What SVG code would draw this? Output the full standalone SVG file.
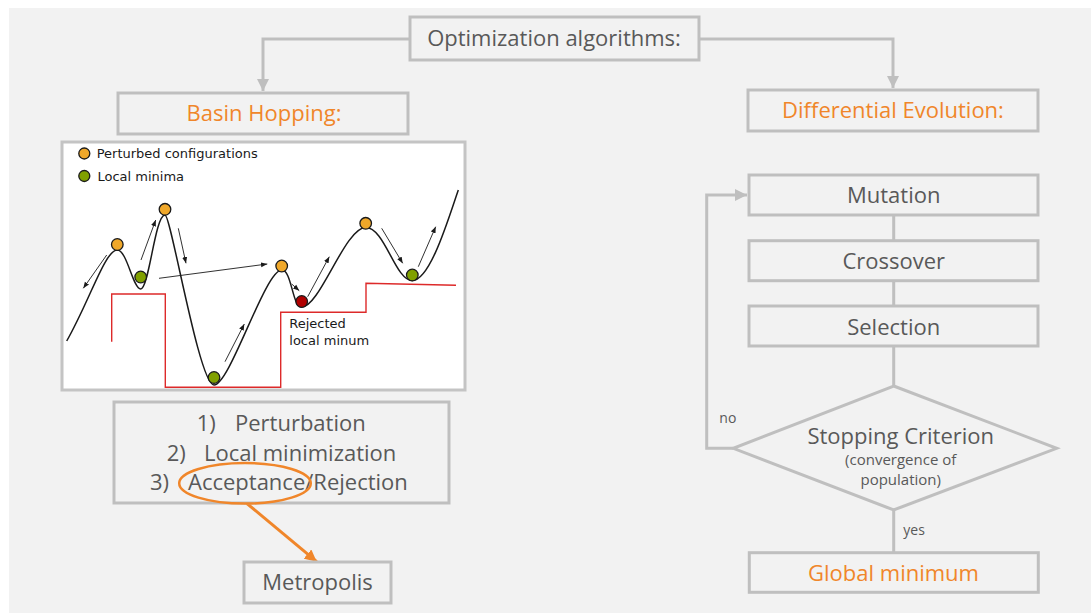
<svg xmlns="http://www.w3.org/2000/svg" width="1091" height="613" viewBox="0 0 1091 613">
<defs>
<style>
.box{fill:#f2f2f2;stroke:#bfbfbf;stroke-width:3}
.con{fill:none;stroke:#bfbfbf;stroke-width:3}
.t{font-family:"Open Sans","Noto Sans",sans-serif;font-size:22px;fill:#595959}
.o{fill:#f0862a}
.c{text-anchor:middle}
.s{font-family:"Open Sans","Noto Sans",sans-serif;font-size:14px;fill:#595959}
.lt{font-family:"DejaVu Sans",sans-serif;font-size:13px;fill:#1a1a1a}
.arr{fill:none;stroke:#1a1a1a;stroke-width:0.9;marker-end:url(#ah)}
.ball{stroke:#1a1a1a;stroke-width:1.3}
.or{fill:#f0a82a}
.gr{fill:#80a000}
.rd{fill:#b00000}
</style>
<marker id="ga" viewBox="0 0 10 10" refX="10" refY="5" markerWidth="4" markerHeight="4" markerUnits="strokeWidth" orient="auto">
<path d="M0,0 L10,5 L0,10 z" fill="#bfbfbf"/>
</marker>
<marker id="oa" viewBox="0 0 10 10" refX="10" refY="5" markerWidth="4" markerHeight="4" markerUnits="strokeWidth" orient="auto">
<path d="M0,0 L10,5 L0,10 z" fill="#f0862a"/>
</marker>
<marker id="ah" viewBox="0 0 10 10" refX="10" refY="5" markerWidth="7" markerHeight="7" markerUnits="strokeWidth" orient="auto">
<path d="M0,1 L10,5 L0,9 z" fill="#1a1a1a"/>
</marker>
</defs>
<rect x="0" y="0" width="1091" height="613" fill="#ffffff"/>
<rect x="9" y="8" width="1082" height="605" fill="#f2f2f2"/>

<g id="connectors">
<path class="con" d="M410,39 H263 V91" marker-end="url(#ga)"/>
<path class="con" d="M699,39 H893 V88" marker-end="url(#ga)"/>
<path class="con" d="M893.7,215 V240.7 M893.7,280.7 V306 M893.7,346 V386 M893.7,510 V552.7"/>
<path class="con" d="M733.3,448.3 H706.7 V195 H747" marker-end="url(#ga)"/>
<path d="M246.7,503.3 L316.7,561.7" fill="none" stroke="#f0862a" stroke-width="3" marker-end="url(#oa)"/>
</g>

<g id="n-opt">
<rect class="box" x="410" y="17" width="289" height="43"/>
<text class="t c" x="554" y="46">Optimization algorithms:</text>
</g>
<g id="n-basin">
<rect class="box" x="118" y="93" width="290" height="41"/>
<text class="t c o" x="264" y="121">Basin Hopping:</text>
</g>
<g id="n-de">
<rect class="box" x="748" y="90" width="290" height="41"/>
<text class="t c o" x="893" y="118">Differential Evolution:</text>
</g>

<g id="n-landscape">
<rect x="62" y="142" width="403" height="248" fill="#ffffff" stroke="#c4c4c4" stroke-width="3"/>
<polyline points="111.7,341.7 111.7,294 165.3,294 165.3,387.3 280.7,387.3 280.7,312.3 366,312.3 366,283.3 456,285.3" fill="none" stroke="#dd2a2a" stroke-width="1.4"/>
<path d="M66.7,341 C90,300 105,250 117.3,250 C127,250 133,289 140.7,289 C149,289 155,215 165,215 C171,215 199,385 214,385 C230,385 265,270 281.7,270 C292,270 292,307 301.7,307 C320,307 345,227.5 365.7,227.5 C385,227.5 395,280.5 412.3,280.5 C430,280.5 448,220 458.3,190" fill="none" stroke="#1a1a1a" stroke-width="1.5"/>
<path class="arr" d="M106.7,255 L83.3,288.3"/>
<path class="arr" d="M141,260 L155.7,220"/>
<path class="arr" d="M178.3,228.3 L186,263.3"/>
<path class="arr" d="M159,278.3 L267.3,264"/>
<path class="arr" d="M225,361.7 L244.3,324"/>
<path class="arr" d="M291.7,284 L299.3,290.7"/>
<path class="arr" d="M307.7,296.7 L329.3,256.7"/>
<path class="arr" d="M381.7,228.3 L402.7,263.3"/>
<path class="arr" d="M418.3,266.7 L435.7,226.7"/>
<circle class="ball or" cx="117.3" cy="244.5" r="5.8"/>
<circle class="ball gr" cx="140.7" cy="277" r="5.8"/>
<circle class="ball or" cx="165" cy="209.3" r="5.8"/>
<circle class="ball gr" cx="214" cy="377.5" r="5.8"/>
<circle class="ball or" cx="281.7" cy="266" r="5.8"/>
<circle class="ball rd" cx="301.7" cy="301.5" r="5.8"/>
<circle class="ball or" cx="365.7" cy="223.3" r="5.8"/>
<circle class="ball gr" cx="412.3" cy="275" r="5.8"/>
<circle class="ball or" cx="84.3" cy="153.5" r="5.5"/>
<circle class="ball gr" cx="84.3" cy="176" r="5.5"/>
<text class="lt" x="96.7" y="158">Perturbed configurations</text>
<text class="lt" x="97.5" y="180.5">Local minima</text>
<text class="lt" x="289.3" y="328">Rejected</text>
<text class="lt" x="289.3" y="344.5">local minum</text>
</g>

<g id="n-steps">
<rect class="box" x="114" y="402" width="335" height="101"/>
<text class="t" x="196.7" y="431">1)</text>
<text class="t" x="235" y="431">Perturbation</text>
<text class="t" x="166.7" y="460.7">2)</text>
<text class="t" x="204" y="460.7">Local minimization</text>
<text class="t" x="150" y="490">3)</text>
<text class="t" x="188" y="490">Acceptance/Rejection</text>
<ellipse cx="245" cy="483.3" rx="65.8" ry="20.3" fill="none" stroke="#f0862a" stroke-width="2.5"/>
</g>
<g id="n-metropolis">
<rect class="box" x="244" y="562" width="147" height="41"/>
<text class="t c" x="317.5" y="590">Metropolis</text>
</g>

<g id="n-mutation">
<rect class="box" x="749" y="175" width="289" height="40"/>
<text class="t c" x="893.7" y="203">Mutation</text>
</g>
<g id="n-crossover">
<rect class="box" x="749" y="240.7" width="289" height="40"/>
<text class="t c" x="893.7" y="269">Crossover</text>
</g>
<g id="n-selection">
<rect class="box" x="749" y="306" width="289" height="40"/>
<text class="t c" x="893.7" y="335">Selection</text>
</g>
<g id="n-stop">
<polygon class="box" points="893.7,386 1056.7,448.3 893.7,510 733.3,448.3"/>
<text class="t c" x="900.7" y="444">Stopping Criterion</text>
<text class="t c" style="font-size:15px" x="900.7" y="465">(convergence of</text>
<text class="t c" style="font-size:15px" x="900.7" y="485">population)</text>
</g>
<text class="s" x="719.3" y="423">no</text>
<text class="s" x="903.3" y="535">yes</text>
<g id="n-global">
<rect class="box" x="749.3" y="552.7" width="289" height="39.6"/>
<text class="t c o" x="893.5" y="581">Global minimum</text>
</g>
</svg>
